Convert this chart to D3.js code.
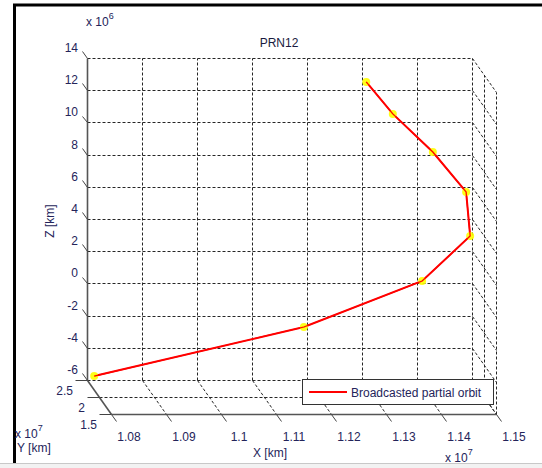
<!DOCTYPE html>
<html>
<head>
<meta charset="utf-8">
<script src="https://cdn.jsdelivr.net/npm/d3@7"></script>
<style>
  html, body { margin: 0; padding: 0; background: #fff; }
  svg { display: block; }
  text { font-family: "Liberation Sans", Arial, sans-serif; }
</style>
</head>
<body>
<div id="chart"></div>
<script>
// ---- data (X, Y in units of 1e7 km, Z in units of 1e6 km) ----
const title = "PRN12";
const seriesName = "Broadcasted partial orbit";
const orbitX = [1.0807, 1.1190, 1.1405, 1.1491, 1.1481, 1.1417, 1.1339, 1.1285];
const orbitY = [2.36, 2.40, 2.40, 2.37, 2.31, 2.23, 2.11, 1.98];
const orbitZ = [-5.46, -2.50, 0.36, 3.22, 6.08, 8.73, 11.35, 13.61];
const xTicks = [1.08, 1.09, 1.10, 1.11, 1.12, 1.13, 1.14, 1.15];
const yTicks = [1.5, 2, 2.5];
const zTicks = [-6, -4, -2, 0, 2, 4, 6, 8, 10, 12, 14];
const xTickLabels = ["1.08", "1.09", "1.1", "1.11", "1.12", "1.13", "1.14", "1.15"];
const yTickLabels = ["1.5", "2", "2.5"];
const zTickLabels = ["-6", "-4", "-2", "0", "2", "4", "6", "8", "10", "12", "14"];

const W = 542, H = 468;
const svg = d3.select("#chart").append("svg").attr("width", W).attr("height", H);

// scales: back wall (x,z) plus depth offset for y
const xS = d3.scaleLinear().domain([1.08, 1.15]).range([87, 472]);
const zS = d3.scaleLinear().domain([-6, 14]).range([380, 58]);
const yS = d3.scaleLinear().domain([2.5, 1.5]).range([0, 1]);
const DX = 24, DY = 34;
const proj = (x, y, z) => [xS(x) + yS(y) * DX, zS(z) + yS(y) * DY];
const crisp = p => [Math.round(p[0]) + 0.5, Math.round(p[1]) + 0.5];

const xMin = 1.08, xMax = 1.15, yBack = 2.5, yFront = 1.5, zMin = -6, zMax = 14;
const line = d3.line();
const ink = "#24245a";

// outer frame / bottom strip
svg.append("rect").attr("x", 0).attr("y", 463).attr("width", W).attr("height", 5).attr("fill", "#f2f2f2");
svg.append("line").attr("x1", 0).attr("x2", W).attr("y1", 463.5).attr("y2", 463.5).attr("stroke", "#c8c8c8");
svg.append("line").attr("x1", 13).attr("x2", W).attr("y1", 5).attr("y2", 5).attr("stroke", "#000").attr("stroke-width", 3);
svg.append("line").attr("x1", 14.5).attr("x2", 14.5).attr("y1", 4).attr("y2", 463).attr("stroke", "#000").attr("stroke-width", 3);

const grid = svg.append("g").attr("fill", "none").attr("stroke", "#262626")
  .attr("stroke-width", 1).attr("stroke-dasharray", "3,2");
function seg(g, a, b) { g.append("path").attr("d", line([crisp(proj(...a)), crisp(proj(...b))])); }

// back wall (y = 2.5)
zTicks.forEach(z => seg(grid, [xMin, yBack, z], [xMax, yBack, z]));
xTicks.slice(1).forEach(x => seg(grid, [x, yBack, zMin], [x, yBack, zMax]));
// right wall (x = 1.15)
zTicks.forEach(z => seg(grid, [xMax, yBack, z], [xMax, yFront, z]));
yTicks.filter(y => y !== yBack).forEach(y => seg(grid, [xMax, y, zMin], [xMax, y, zMax]));
// floor (z = -6)
yTicks.filter(y => y !== yBack && y !== yFront).forEach(y => seg(grid, [xMin, y, zMin], [xMax, y, zMin]));
xTicks.slice(1).forEach(x => seg(grid, [x, yBack, zMin], [x, yFront, zMin]));

// solid axes
const axes = svg.append("g").attr("fill", "none").attr("stroke", "#555").attr("stroke-width", 1.6);
seg(axes, [xMin, yBack, zMin], [xMin, yBack, zMax]);          // z axis
seg(axes, [xMin, yBack, zMin], [xMin, yFront, zMin]);         // y axis
seg(axes, [xMin, yFront, zMin], [xMax, yFront, zMin]);        // x axis

// ticks
const tk = svg.append("g").attr("fill", "none").attr("stroke", "#444").attr("stroke-width", 1);
zTicks.forEach(z => seg(tk, [xMin, yBack, z], [xMin, yBack + 0.2, z]));
xTicks.forEach(x => seg(tk, [x, yFront, zMin], [x, yFront - 0.22, zMin]));
yTicks.forEach(y => seg(tk, [xMin, y, zMin], [xMin - 0.0022, y, zMin]));

const lab = svg.append("g").attr("fill", ink).attr("font-size", 12);
zTicks.forEach((z, i) => {
  const p = proj(xMin, yBack, z);
  lab.append("text").attr("x", p[0] - 9).attr("y", p[1] - 6).attr("text-anchor", "end").text(zTickLabels[i]);
});
xTicks.forEach((x, i) => {
  const p = proj(x, yFront, zMin);
  lab.append("text").attr("x", p[0] + 18).attr("y", p[1] + 27).attr("text-anchor", "middle").text(xTickLabels[i]);
});
yTicks.forEach((y, i) => {
  const p = proj(xMin, y, zMin);
  lab.append("text").attr("x", p[0] - 14).attr("y", p[1] + 15).attr("text-anchor", "end").text(yTickLabels[i]);
});

// exponents and axis labels
function expo(x, y, base, e) {
  const t = lab.append("text").attr("x", x).attr("y", y);
  t.append("tspan").text(base);
  t.append("tspan").attr("font-size", 9).attr("dy", -7).text(e);
}
expo(86, 26, "x 10", "6");
expo(15, 438, "x 10", "7");
expo(445, 462, "x 10", "7");
lab.append("text").attr("x", 17).attr("y", 452).text("Y [km]");
lab.append("text").attr("x", 270).attr("y", 457).attr("text-anchor", "middle").text("X [km]");
lab.append("text").attr("transform", "translate(54,221) rotate(-90)").attr("text-anchor", "middle").text("Z [km]");
lab.append("text").attr("x", 279).attr("y", 47).attr("text-anchor", "middle").attr("fill", "#1a1a40").text(title);

// orbit
const pts = orbitX.map((x, i) => proj(x, orbitY[i], orbitZ[i]));
svg.append("path").attr("d", line(pts)).attr("fill", "none").attr("stroke", "#ff0000").attr("stroke-width", 2);
svg.append("g").selectAll("circle").data(pts).join("circle")
  .attr("cx", d => d[0]).attr("cy", d => d[1]).attr("r", 4).attr("fill", "#ffff00").attr("opacity", 0.9);
svg.append("path").attr("d", line(pts)).attr("fill", "none").attr("stroke", "#ff0000").attr("stroke-width", 1.2);

// legend
const lg = svg.append("g");
lg.append("rect").attr("x", 302.5).attr("y", 379.5).attr("width", 191).attr("height", 25)
  .attr("fill", "#fff").attr("stroke", "#333").attr("stroke-width", 1);
lg.append("line").attr("x1", 309).attr("x2", 347).attr("y1", 392).attr("y2", 392).attr("stroke", "#ff0000").attr("stroke-width", 2);
lg.append("text").attr("x", 351).attr("y", 396.5).attr("font-size", 12).attr("fill", ink).text(seriesName);
</script>
</body>
</html>
